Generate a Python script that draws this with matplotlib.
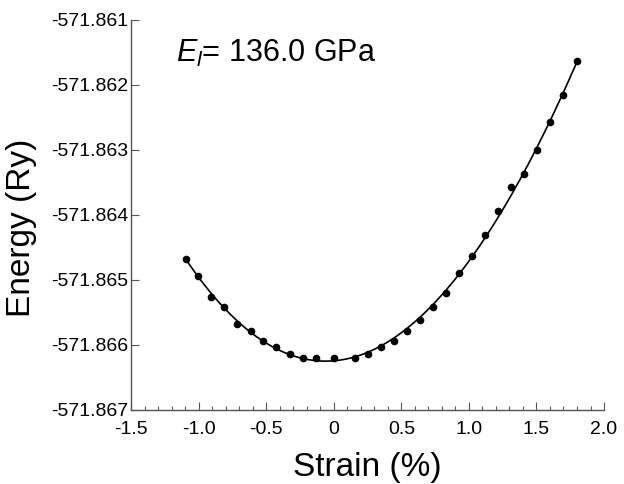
import numpy as np
import matplotlib
matplotlib.use("Agg")
import matplotlib.pyplot as plt
from matplotlib.ticker import MultipleLocator, FixedLocator

plt.rcParams['font.family'] = ['Liberation Sans', 'DejaVu Sans']
plt.rcParams['mathtext.fontset'] = 'custom'
plt.rcParams['mathtext.rm'] = 'Liberation Sans'
plt.rcParams['mathtext.it'] = 'Liberation Sans:italic'

# Computed total energy versus applied strain
strain = [-1.096, -1.003, -0.907, -0.811, -0.715, -0.616, -0.520, -0.424,
          -0.326, -0.230, -0.134, 0.004, 0.157, 0.253, 0.350, 0.445,
          0.540, 0.637, 0.733, 0.832, 0.930, 1.026, 1.122, 1.218,
          1.314, 1.410, 1.506, 1.602, 1.700, 1.799]
energy = [-571.864677, -571.864938, -571.865257, -571.865415, -571.865672,
          -571.865780, -571.865934, -571.866036, -571.866143, -571.866195,
          -571.866195, -571.866195, -571.866195, -571.866143, -571.866036,
          -571.865934, -571.865780, -571.865620, -571.865410, -571.865200,
          -571.864887, -571.864626, -571.864312, -571.863943, -571.863574,
          -571.863364, -571.862995, -571.862574, -571.862159, -571.861631]

x_ticks = [-1.5, -1.0, -0.5, 0.0, 0.5, 1.0, 1.5, 2.0]
x_ticklabels = ['-1.5', '-1.0', '-0.5', '0', '0.5', '1.0', '1.5', '2.0']
y_ticks = [-571.867, -571.866, -571.865, -571.864, -571.863, -571.862, -571.861]
y_ticklabels = ['-571.867', '-571.866', '-571.865', '-571.864',
                '-571.863', '-571.862', '-571.861']
modulus_label = r'$E_l$= 136.0 GPa'

fig = plt.figure(figsize=(6.24, 4.84), dpi=100)
ax = fig.add_axes([0.210, 0.153, 0.758, 0.806])

# Cubic fit through the computed energies
coef = np.polyfit(strain, energy, 3)
xs = np.linspace(min(strain), max(strain), 300)
ax.plot(xs, np.polyval(coef, xs), color='black', lw=1.2, zorder=2)
ax.plot(strain, energy, 'o', color='black', ms=4.5, zorder=3)

ax.set_xlim(-1.5, 2.0)
ax.set_ylim(-571.867, -571.861)
ax.xaxis.set_major_locator(FixedLocator(x_ticks))
ax.set_xticklabels(x_ticklabels)
ax.xaxis.set_minor_locator(MultipleLocator(0.1))
ax.yaxis.set_major_locator(FixedLocator(y_ticks))
ax.set_yticklabels(y_ticklabels)

for side in ('top', 'right'):
    ax.spines[side].set_visible(False)
for side in ('left', 'bottom'):
    ax.spines[side].set_color('#555555')
    ax.spines[side].set_linewidth(1.0)

ax.tick_params(axis='both', which='major', direction='in', length=6,
               width=0.8, color='#555555', labelsize=14)
ax.tick_params(axis='x', which='major', pad=8)
ax.tick_params(axis='y', which='major', pad=2)
ax.tick_params(axis='x', which='minor', direction='in', length=3,
               width=0.8, color='#555555')

ax.set_xlabel('Strain (%)', fontsize=24, labelpad=10)
ax.set_ylabel('Energy (Ry)', fontsize=24)
ax.yaxis.set_label_coords(-0.198, 0.467)

ax.text(-1.168, -571.861646, modulus_label, fontsize=22, va='baseline',
        ha='left')

fig.savefig('out.png', dpi=100)
